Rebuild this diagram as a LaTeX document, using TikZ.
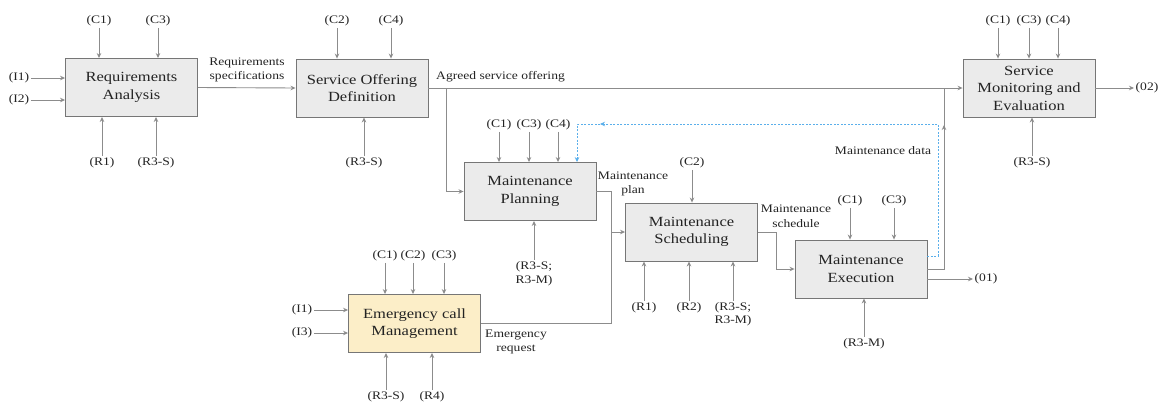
\documentclass[tikz,border=0pt]{standalone}
\usepackage{fontspec}
\setmainfont[FakeStretch=1.18]{Liberation Serif}
\usetikzlibrary{arrows.meta,calc}
\definecolor{ln}{RGB}{140,140,140}
\definecolor{bd}{RGB}{118,118,118}
\definecolor{bx}{RGB}{235,235,235}
\definecolor{ecmfill}{RGB}{252,238,200}
\definecolor{fb}{RGB}{90,175,235}
\definecolor{tx}{RGB}{35,35,35}
\newcommand\ctl[5]{\node[lbl] (#1) at (#2,#3) {#4}; \draw[arr] (#1.south) -- (#1.south |- #5.north);}
\newcommand\mec[5]{\node[lbl] (#1) at (#2,#3) {#4}; \draw[arr] (#1.north) -- (#1.north |- #5.south);}
\newcommand\inp[5]{\node[lbl] (#1) at (#2,#3) {#4}; \draw[arr] (#1.east) -- (#1.east -| #5.west);}
\begin{document}
\begin{tikzpicture}[x=1pt,y=-1pt,
  box/.style={draw=bd, line width=0.9pt, fill=bx, minimum width=132pt, minimum height=58pt, inner sep=0pt, align=center, text=tx, font=\fontsize{14}{17.5}\selectfont},
  lbl/.style={inner sep=1.5pt, align=center, text=tx, font=\fontsize{11.5}{14}\selectfont},
  flbl/.style={inner sep=0pt, align=center, text=tx, font=\fontsize{11.5}{14.5}\selectfont},
  arr/.style={draw=ln, line width=0.9pt, -{Stealth[length=5pt,width=4.5pt]}},
  ln/.style={draw=ln, line width=0.9pt},
  fbk/.style={draw=fb, line width=0.7pt, dashed, dash pattern=on 2pt off 1.5pt},
  fbkarr/.style={fbk, -{Stealth[length=5pt,width=4.5pt]}}
]
\useasboundingbox[fill=white] (0,0) rectangle (1162,405);

% boxes
\node[box] (ra) at (131.5,87.5) {Requirements\\Analysis};
\node[box] (sod) at (362,88) {Service Offering\\Definition};
\node[box] (mp) at (530,191.5) {Maintenance\\Planning};
\node[box] (ms) at (691.5,232) {Maintenance\\Scheduling};
\node[box] (me) at (861,269) {Maintenance\\Execution};
\node[box] (sme) at (1029,88) {Service\\Monitoring and\\Evaluation};
\node[box, fill=ecmfill] (ecm) at (414.5,323.5) {Emergency call\\Management};

% Requirements Analysis ICOM
\ctl{rac1}{99}{21}{(C1)}{ra}
\ctl{rac3}{158}{21}{(C3)}{ra}
\inp{rai1}{19}{78}{(I1)}{ra}
\inp{rai2}{19}{100}{(I2)}{ra}
\mec{rar1}{102}{163}{(R1)}{ra}
\mec{rar3}{156}{163}{(R3-S)}{ra}

% Service Offering Definition ICOM
\ctl{sodc2}{337}{21}{(C2)}{sod}
\ctl{sodc4}{391}{21}{(C4)}{sod}
\mec{sodr3}{364}{163}{(R3-S)}{sod}

% Maintenance Planning ICOM
\ctl{mpc1}{499}{125}{(C1)}{mp}
\ctl{mpc3}{529}{125}{(C3)}{mp}
\ctl{mpc4}{558}{125}{(C4)}{mp}
\mec{mpr3}{534}{274}{(R3-S;\\R3-M)}{mp}

% Emergency call Management ICOM
\ctl{ecmc1}{385}{256}{(C1)}{ecm}
\ctl{ecmc2}{413}{256}{(C2)}{ecm}
\ctl{ecmc3}{444}{256}{(C3)}{ecm}
\inp{ecmi1}{302}{310}{(I1)}{ecm}
\inp{ecmi3}{302}{333}{(I3)}{ecm}
\mec{ecmr3}{386}{397}{(R3-S)}{ecm}
\mec{ecmr4}{432}{397}{(R4)}{ecm}

% Maintenance Scheduling ICOM
\ctl{msc2}{692}{163}{(C2)}{ms}
\mec{msr1}{644}{308}{(R1)}{ms}
\mec{msr2}{689}{308}{(R2)}{ms}
\node[lbl, font=\fontsize{11.5}{12.5}\selectfont] (msr3) at (733,314) {(R3-S;\\R3-M)};
\draw[arr] (msr3.north) -- (msr3.north |- ms.south);

% Maintenance Execution ICOM
\ctl{mec1}{850}{201}{(C1)}{me}
\ctl{mec3}{894}{201}{(C3)}{me}
\mec{mer3}{864}{344}{(R3-M)}{me}

% Service Monitoring ICOM
\ctl{smec1}{998}{21}{(C1)}{sme}
\ctl{smec3}{1029}{21}{(C3)}{sme}
\ctl{smec4}{1058}{21}{(C4)}{sme}
\mec{smer3}{1032}{163}{(R3-S)}{sme}

% outputs
\node[lbl] (o1) at (986,279) {(01)};
\draw[arr] (me.east |- o1) -- (o1.west);
\node[lbl] (o2) at (1147,88) {(02)};
\draw[arr] (sme.east) -- (o2.west);

% main flows
\draw[arr] (ra.east) -- (sod.west);
\node[flbl] at (247,70) {Requirements\\specifications};
\draw[arr] (sod.east) -- (sme.west);
\node[flbl, anchor=west] at (436,77) {Agreed service offering};
\coordinate (b1) at (446,88);
\draw[arr] (b1) |- (mp.west);

\coordinate (j1) at (611,232);
\draw[ln] (mp.east) -| (j1);
\draw[arr] (j1) -- (ms.west);
\draw[ln] (ecm.east) -| (j1);
\node[flbl] at (633,184) {Maintenance\\plan};
\node[flbl] at (516,342) {Emergency\\request};

\coordinate (k2) at (776,269);
\draw[ln] (ms.east) -| (k2);
\draw[arr] (k2) -- (me.west);
\node[flbl] at (796,216) {Maintenance\\schedule};

% execution -> monitoring
\coordinate (k3) at (944,269);
\coordinate (k5) at (944,125);
\coordinate (k4) at (944,88);
\draw[ln] (me.east) -- (k3) -- (k4);
\draw[arr] (k3) -- (k5);

% maintenance data feedback
\coordinate (d1) at (938,124);
\coordinate (d3) at (600,124);
\coordinate (d2) at (577,124);
\draw[fbkarr] ($(me.east)+(0,-13)$) -| (d1) -- (d3);
\draw[fbkarr] (d3) -- (d2) -- (d2 |- mp.north);
\node[flbl] at (883,151) {Maintenance data};
\end{tikzpicture}
\end{document}
